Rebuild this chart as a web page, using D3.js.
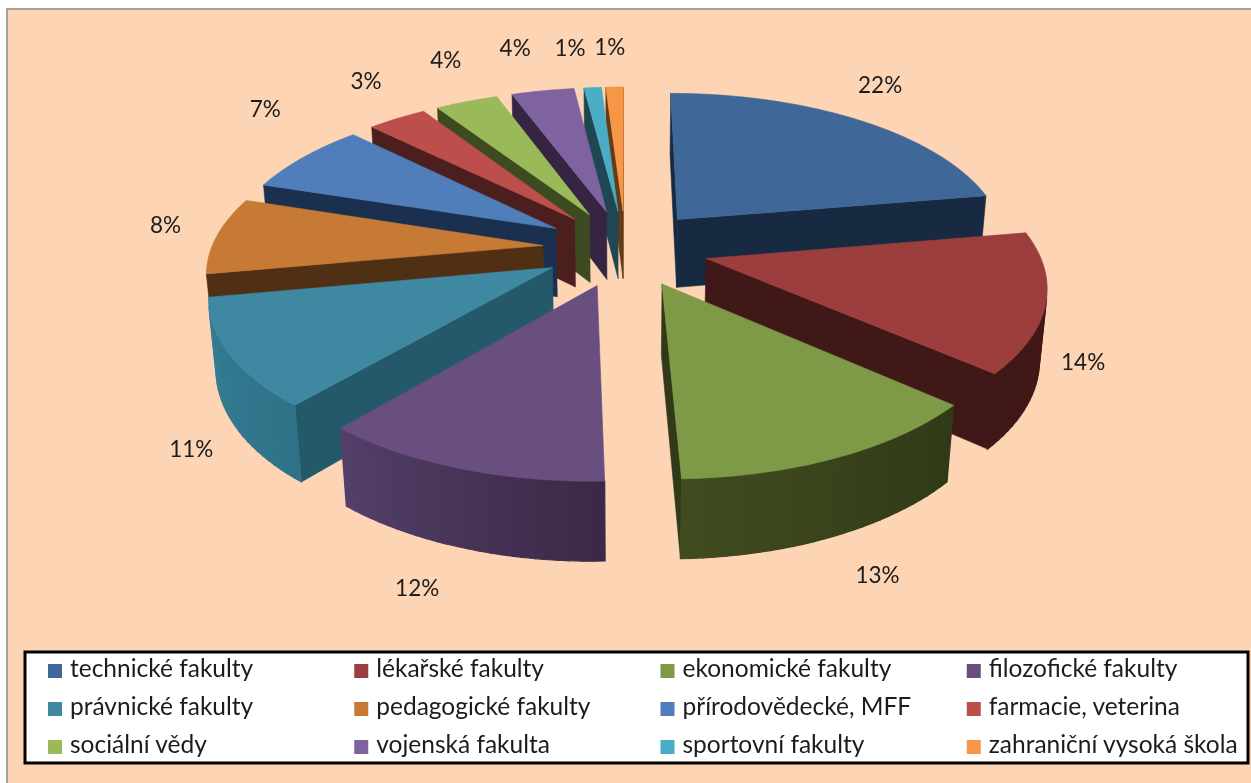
<!DOCTYPE html>
<html>
<head>
<meta charset="utf-8">
<script src="https://cdn.jsdelivr.net/npm/d3@7"></script>
<style>
  html, body { margin: 0; padding: 0; background: #fff; }
  svg { display: block; filter: blur(0.6px); }
  text { font-family: Lato, "Open Sans", sans-serif; fill: #1c1c1c; }
</style>
</head>
<body>
<div id="chart"></div>
<script>
const categories = ["technické fakulty","lékařské fakulty","ekonomické fakulty","filozofické fakulty",
  "právnické fakulty","pedagogické fakulty","přírodovědecké, MFF","farmacie, veterina",
  "sociální vědy","vojenská fakulta","sportovní fakulty","zahraniční vysoká škola"];
const shares = [22.3,14.2,13.0,11.7,10.9,7.9,7.4,3.4,3.6,3.6,1.0,1.0];

const topColors = ["#3f6898","#9b3e3d","#7e9a47","#694f80","#3e89a1","#c77a35","#4f7ebb","#bc4f4b","#9aba59","#7f63a1","#4bacc6","#f79646"];
const radialColors = ["#182a41","#401817","#303a18","#3b2947","#24596a","#503015","#1b304e","#4d1e1e","#3e4a22","#352543","#1f4753","#633b16"];
const rimStart = ["#182a41","#401817","#2f3a18","#3b2947","#2f7287","#503015","#1b304e","#4d1e1e","#3e4a22","#352543","#1f4753","#633b16"];
const rimEnd = ["#182a41","#401817","#424c20","#54406a","#367f96","#503015","#1b304e","#4d1e1e","#3e4a22","#352543","#1f4753","#633b16"];
// label offsets from the default spot, excel pushes them around
const labelNudge = [[2,-22],[3,-17],[19,15],[-26,15],[-4,11],[-13,-7],[-10,-38],[-12,-25],[-8,-27],[-21,-28],[-20,-24],[-4,-25]];

const width = 1251, height = 783;
const cx = 625.5, cy = 248;
const radius = 340, explode = 85, depth = 79;
const xStretch = 0.975;
const tilt = 26.8 * Math.PI / 180, camera = 2000;

const svg = d3.select("#chart").append("svg")
  .attr("width", width).attr("height", height)
  .attr("viewBox", [0, 0, width, height]);

// peach panel with the grey top and left edge
svg.append("rect").attr("x", 7).attr("y", 9).attr("width", width).attr("height", height)
  .attr("fill", "#fdd5b4").attr("stroke", "#a8a29c").attr("stroke-width", 2);

// X goes right, Y towards the viewer, Z up
function project(X, Y, Z) {
  const yv = Y * Math.sin(tilt) - Z * Math.cos(tilt);
  const zv = Y * Math.cos(tilt) + Z * Math.sin(tilt);
  const s = camera / (camera - zv);
  return [cx + X * xStretch * s, cy + yv * s];
}

const pie = d3.pie().sort(null).value(d => d);
const arcs = pie(shares).map((a, i) => {
  const mid = (a.startAngle + a.endAngle) / 2;
  return {i, start: a.startAngle, end: a.endAngle, mid,
    ax: explode * Math.sin(mid), ay: -explode * Math.cos(mid), value: a.value};
});

const rim = (a, t, z) => project(a.ax + radius * Math.sin(t), a.ay - radius * Math.cos(t), z);
const apex = (a, z) => project(a.ax, a.ay, z);
const line = d3.line();

function wall(g, pts, color, sw) {
  if (d3.polygonArea(pts) <= 0) return;
  g.append("path").attr("d", line(pts) + "Z")
    .attr("fill", color).attr("stroke", color).attr("stroke-width", sw);
}

const order = arcs.slice().sort((p, q) => p.ay - q.ay);

order.forEach(a => {
  const g = svg.append("g");
  const steps = Math.max(2, Math.ceil((a.end - a.start) / 0.03));
  const ts = d3.range(steps + 1).map(k => a.start + (a.end - a.start) * k / steps);
  const shade = d3.interpolateRgb(rimStart[a.i], rimEnd[a.i]);

  // radial sides
  wall(g, [apex(a, 0), rim(a, a.start, 0), rim(a, a.start, -depth), apex(a, -depth)], radialColors[a.i], 0.6);
  wall(g, [rim(a, a.end, 0), apex(a, 0), apex(a, -depth), rim(a, a.end, -depth)], radialColors[a.i], 0.6);

  // outer wall, in facets so it can shade
  d3.pairs(ts).forEach(([t0, t1], k) => {
    wall(g, [rim(a, t0, 0), rim(a, t1, 0), rim(a, t1, -depth), rim(a, t0, -depth)], d3.rgb(shade(k / steps)).formatHex(), 1.2);
  });

  // top face
  const top = [apex(a, 0)].concat(ts.map(t => rim(a, t, 0)));
  g.append("path").attr("d", line(top) + "Z")
    .attr("fill", topColors[a.i]).attr("stroke", topColors[a.i]).attr("stroke-width", 0.6);
});

// percent labels sit just outside the rim
const labelRadius = 1.12;
arcs.forEach(a => {
  const p = project(a.ax + radius * labelRadius * Math.sin(a.mid), a.ay - radius * labelRadius * Math.cos(a.mid),
    a.mid > Math.PI / 2 && a.mid < 1.5 * Math.PI ? -depth : 0);
  svg.append("text").attr("x", p[0] + labelNudge[a.i][0]).attr("y", p[1] + labelNudge[a.i][1])
    .attr("text-anchor", "middle").attr("dominant-baseline", "middle")
    .attr("font-size", 22.5).text(Math.round(a.value) + "%");
});

// legend
const legendX = d3.scaleBand().domain(d3.range(4)).range([48, 1273]);
const legendY = d3.scaleBand().domain(d3.range(3)).range([652, 766]);

svg.append("rect").attr("x", 25).attr("y", 652).attr("width", 1223).attr("height", 111)
  .attr("fill", "#fff").attr("stroke", "#000").attr("stroke-width", 3);

const item = svg.selectAll(".legend-item").data(categories).join("g").attr("class", "legend-item")
  .attr("transform", (d, i) => `translate(${legendX(i % 4)},${legendY(Math.floor(i / 4)) + legendY.bandwidth() / 2})`);
item.append("rect").attr("y", -7).attr("width", 14).attr("height", 14).attr("fill", (d, i) => topColors[i]);
item.append("text").attr("x", 22).attr("dominant-baseline", "middle").attr("font-size", 24.5).text(d => d);
</script>
</body>
</html>
